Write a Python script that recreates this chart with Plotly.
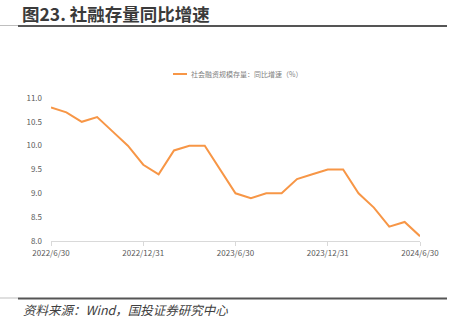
import plotly.graph_objects as go

# 社融存量同比增速（月度，%）
months = [
    "2022/6/30", "2022/7/31", "2022/8/31", "2022/9/30", "2022/10/31", "2022/11/30",
    "2022/12/31", "2023/1/31", "2023/2/28", "2023/3/31", "2023/4/30", "2023/5/31",
    "2023/6/30", "2023/7/31", "2023/8/31", "2023/9/30", "2023/10/31", "2023/11/30",
    "2023/12/31", "2024/1/31", "2024/2/29", "2024/3/31", "2024/4/30", "2024/5/31",
    "2024/6/30",
]
growth = [
    10.8, 10.7, 10.5, 10.6, 10.3, 10.0,
    9.6, 9.4, 9.9, 10.0, 10.0, 9.5,
    9.0, 8.9, 9.0, 9.0, 9.3, 9.4,
    9.5, 9.5, 9.0, 8.7, 8.3, 8.4,
    8.1,
]
x_ticks = ["2022/6/30", "2022/12/31", "2023/6/30", "2023/12/31", "2024/6/30"]
y_ticks = [8.0, 8.5, 9.0, 9.5, 10.0, 10.5, 11.0]
series_name = "社会融资规模存量：同比增速（%）"
title_text = "图23. 社融存量同比增速"
source_text = "资料来源：Wind，国投证券研究中心"

W, H = 456, 325
L, R, T, B = 51, 420, 98, 241  # plot area edges in pixels
LINE_COLOR = "#F79646"
CJK = "Noto Sans CJK SC"


def px(x):
    return (x - L) / (R - L)


def py(y):
    return (B - y) / (B - T)


fig = go.Figure()
fig.add_trace(go.Scatter(
    x=list(range(len(months))), y=growth, mode="lines", name=series_name,
    line=dict(color=LINE_COLOR, width=2), showlegend=False,
    customdata=months, hovertemplate="%{customdata}: %{y:.1f}<extra></extra>",
))

shapes = [
    # header rule
    dict(type="line", xref="paper", yref="paper", x0=px(0), x1=px(18), y0=py(25.5), y1=py(25.5),
         line=dict(color="#bfbfbf", width=1)),
    dict(type="line", xref="paper", yref="paper", x0=px(18), x1=px(447), y0=py(26), y1=py(26),
         line=dict(color="#555555", width=2)),
    # footer rule
    dict(type="line", xref="paper", yref="paper", x0=px(0), x1=px(18), y0=py(298), y1=py(298),
         line=dict(color="#bfbfbf", width=1)),
    dict(type="line", xref="paper", yref="paper", x0=px(18), x1=px(447), y0=py(298.5), y1=py(298.5),
         line=dict(color="#555555", width=2)),
    # legend key
    dict(type="line", xref="paper", yref="paper", x0=px(173), x1=px(187), y0=py(74), y1=py(74),
         line=dict(color=LINE_COLOR, width=2)),
]

annotations = [
    dict(text=f"<b>{title_text}</b>", xref="paper", yref="paper", x=px(20), y=py(14),
         xanchor="left", yanchor="middle", showarrow=False,
         font=dict(family=CJK, size=17.5, color="#3a3a3a")),
    dict(text=series_name, xref="paper", yref="paper", x=px(189), y=py(74),
         xanchor="left", yanchor="middle", showarrow=False,
         font=dict(family=CJK, size=7, color="#7f7f7f")),
    dict(text=f"<i>{source_text}</i>", xref="paper", yref="paper", x=px(21), y=py(309),
         xanchor="left", yanchor="middle", showarrow=False,
         font=dict(family=CJK, size=12.5, color="#404040")),
]

fig.update_layout(
    width=W, height=H,
    margin=dict(l=L, r=W - R, t=T, b=H - B, pad=0),
    paper_bgcolor="white", plot_bgcolor="white",
    shapes=shapes, annotations=annotations,
    font=dict(family=CJK, color="#595959", size=8),
    xaxis=dict(
        range=[0, len(months) - 1],
        tickvals=[months.index(t) for t in x_ticks], ticktext=x_ticks,
        showgrid=False, zeroline=False,
        showline=True, linecolor="#d9d9d9", linewidth=1,
        ticks="outside", ticklen=4, tickcolor="#d9d9d9",
        tickfont=dict(family=CJK, size=8, color="#595959"),
    ),
    yaxis=dict(
        range=[8.0, 11.0], tickvals=y_ticks, tickformat=".1f",
        showgrid=False, zeroline=False, showline=False,
        ticks="", ticklabelstandoff=8,
        tickfont=dict(family=CJK, size=8, color="#595959"),
    ),
)

fig.write_html("out.html")
